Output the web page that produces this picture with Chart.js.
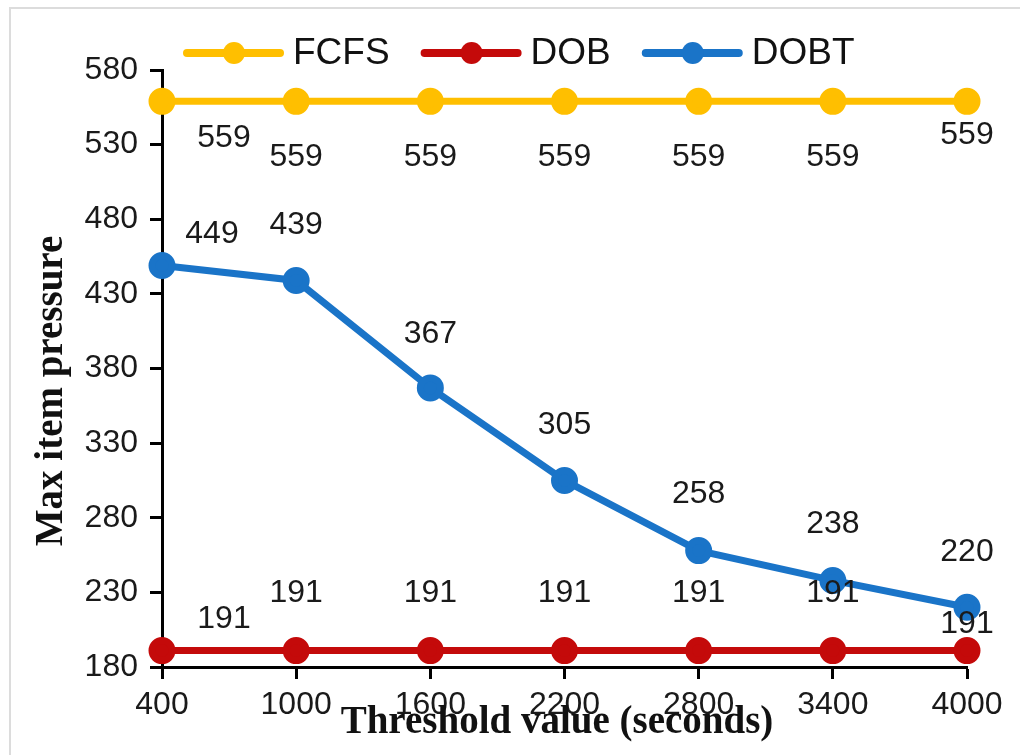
<!DOCTYPE html>
<html>
<head>
<meta charset="utf-8">
<script src="https://cdn.jsdelivr.net/npm/chart.js@4.4.1/dist/chart.umd.min.js"></script>
<style>
  html, body { margin: 0; padding: 0; background: #ffffff; }
  #wrap { width: 1020px; height: 755px; }
</style>
</head>
<body>
<div id="wrap"><canvas id="c" width="1020" height="755"></canvas></div>
<script>
// Threshold values (seconds) on the x axis
const thresholds = ['400', '1000', '1600', '2200', '2800', '3400', '4000'];

// Max item pressure per scheduling policy
const fcfs = [559, 559, 559, 559, 559, 559, 559];
const dob  = [191, 191, 191, 191, 191, 191, 191];
const dobt = [449, 439, 367, 305, 258, 238, 220];

const seriesNames = ['FCFS', 'DOB', 'DOBT'];
const seriesColors = ['#FFBF00', '#C40A0A', '#1A74C8'];

// y axis range and step
const yMin = 180, yMax = 580, yStep = 50;

// value label offsets (dx, dy) from each point, in pixels
const labelOffsets = [
  [[62, 37], [0, 56], [0, 56], [0, 56], [0, 56], [0, 56], [0, 34]],
  [[62, -31], [0, -57], [0, -57], [0, -57], [0, -57], [0, -57], [0, -26]],
  [[50, -31], [0, -55], [0, -54], [0, -55], [0, -56], [0, -56], [0, -55]]
];

const SANS = '"Liberation Sans", Arial, sans-serif';
const SERIF = '"Liberation Serif", "Times New Roman", serif';

// frame lines, legend, value labels and axis titles
const decorations = {
  id: 'decorations',
  beforeDraw(chart) {
    const ctx = chart.ctx;
    ctx.save();
    ctx.fillStyle = '#ffffff';
    ctx.fillRect(0, 0, chart.width, chart.height);
    ctx.strokeStyle = '#dcdcdc';
    ctx.lineWidth = 2;
    ctx.beginPath();
    ctx.moveTo(10, chart.height);
    ctx.lineTo(10, 8);
    ctx.lineTo(chart.width, 8);
    ctx.stroke();
    ctx.restore();
  },
  afterDatasetsDraw(chart) {
    const ctx = chart.ctx;
    ctx.save();
    // value labels
    ctx.font = '32px ' + SANS;
    ctx.fillStyle = '#1a1a1a';
    ctx.textAlign = 'center';
    ctx.textBaseline = 'middle';
    chart.data.datasets.forEach((ds, di) => {
      const meta = chart.getDatasetMeta(di);
      meta.data.forEach((pt, i) => {
        const off = labelOffsets[di][i];
        ctx.fillText(String(ds.data[i]), pt.x + off[0], pt.y + off[1]);
      });
    });

    // legend
    const ly = 53;
    let x = 187;
    ctx.font = '37px ' + SANS;
    ctx.textAlign = 'left';
    chart.data.datasets.forEach((ds) => {
      ctx.strokeStyle = ds.borderColor;
      ctx.lineWidth = 8;
      ctx.lineCap = 'round';
      ctx.beginPath();
      ctx.moveTo(x, ly);
      ctx.lineTo(x + 93, ly);
      ctx.stroke();
      ctx.fillStyle = ds.borderColor;
      ctx.beginPath();
      ctx.arc(x + 47, ly, 11, 0, Math.PI * 2);
      ctx.fill();
      ctx.fillStyle = '#111111';
      ctx.fillText(ds.label, x + 106, ly + 1);
      x += 106 + ctx.measureText(ds.label).width + 35;
    });

    // axis titles
    ctx.fillStyle = '#111111';
    ctx.font = 'bold 39px ' + SERIF;
    ctx.textAlign = 'center';
    ctx.fillText('Threshold value (seconds)', 557, 723);
    ctx.translate(52, 391);
    ctx.rotate(-Math.PI / 2);
    ctx.fillText('Max item pressure', 0, 0);
    ctx.restore();
  }
};

const seriesData = [fcfs, dob, dobt];

new Chart(document.getElementById('c'), {
  type: 'line',
  data: {
    labels: thresholds,
    datasets: seriesData.map((vals, i) => ({
      label: seriesNames[i],
      data: vals,
      borderColor: seriesColors[i],
      backgroundColor: seriesColors[i],
      pointBackgroundColor: seriesColors[i],
      pointBorderColor: seriesColors[i],
      borderWidth: 7,
      pointRadius: 10,
      pointHoverRadius: 10,
      tension: 0,
      clip: false
    }))
  },
  options: {
    responsive: false,
    animation: false,
    devicePixelRatio: 1,
    layout: { padding: { top: 70, right: 53, left: 0, bottom: 0 } },
    plugins: {
      legend: { display: false },
      tooltip: { enabled: false }
    },
    scales: {
      x: {
        offset: false,
        afterFit(scale) { scale.height = 88; },
        grid: {
          drawOnChartArea: false,
          drawTicks: true,
          tickLength: 12,
          tickWidth: 3,
          tickColor: '#000000'
        },
        border: { display: true, color: '#000000', width: 3 },
        ticks: {
          color: '#1a1a1a',
          font: { family: SANS, size: 32 },
          padding: 7,
          maxRotation: 0,
          autoSkip: false
        }
      },
      y: {
        min: yMin,
        max: yMax,
        afterFit(scale) { scale.width = 162; },
        grid: {
          drawOnChartArea: false,
          drawTicks: true,
          tickLength: 12,
          tickWidth: 3,
          tickColor: '#000000'
        },
        border: { display: true, color: '#000000', width: 3 },
        ticks: {
          stepSize: yStep,
          color: '#1a1a1a',
          font: { family: SANS, size: 32 },
          padding: 12
        }
      }
    }
  },
  plugins: [decorations]
});
</script>
</body>
</html>
